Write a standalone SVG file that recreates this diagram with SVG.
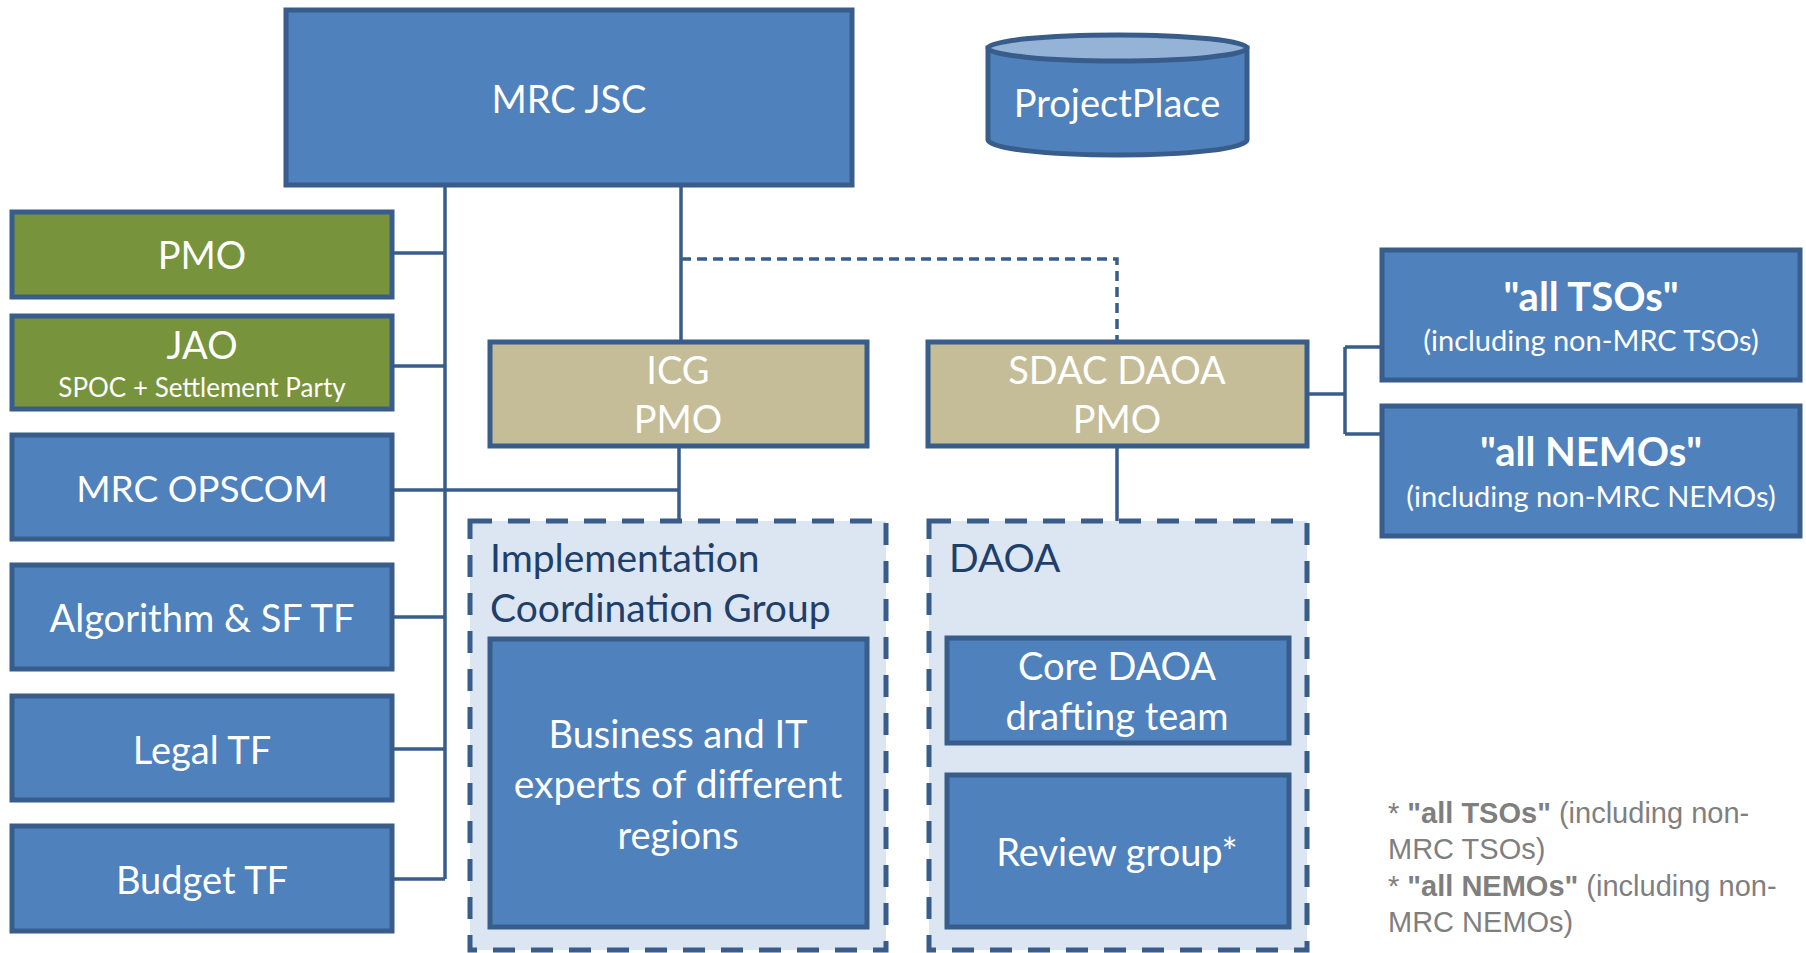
<svg xmlns="http://www.w3.org/2000/svg" width="1806" height="953" viewBox="0 0 1806 953">
<style>
.box{fill:#4F81BD;stroke:#385D8A;stroke-width:5}
.green{fill:#77933C;stroke:#385D8A;stroke-width:5}
.beige{fill:#C4BD97;stroke:#385D8A;stroke-width:5}
.grp{fill:#DCE6F2;stroke:#385D8A;stroke-width:5;stroke-dasharray:22 16}
.ln{fill:none;stroke:#385D8A;stroke-width:3.5}
.dash{fill:none;stroke:#385D8A;stroke-width:3.5;stroke-dasharray:10 6}
text{font-family:Lato,"Open Sans","Liberation Sans",sans-serif}
.t{fill:#fff;font-size:38px;text-anchor:middle}
.ts{fill:#fff;font-size:26px;text-anchor:middle}
.tsb{fill:#fff;font-size:29px;text-anchor:middle}
.tb{fill:#fff;font-size:40px;font-weight:bold;text-anchor:middle}
.td{fill:#1F3F6B;font-size:39px}
.fn{font-family:"Liberation Sans",Arial,sans-serif;fill:#7F7F7F;font-size:29px}
</style>
<rect width="1806" height="953" fill="#fff"/>
<g id="connectors">
<path class="ln" d="M445 185V879M392 253H445M392 366H445M392 490H680M392 617H445M392 749H445M392 879H445"/>
<path class="ln" d="M681 185V342"/>
<path class="dash" d="M681 259H1117V342"/>
<path class="ln" d="M679 446V521"/>
<path class="ln" d="M1117 446V521"/>
<path class="ln" d="M1307 394H1345M1345 347V434M1345 347H1382M1345 434H1382"/>
</g>
<g id="mrc-jsc"><rect class="box" x="286" y="10" width="566" height="175"/><text class="t" x="569" y="113">MRC JSC</text></g>
<g id="projectplace">
<path d="M988 48V140A129 15 0 0 0 1247 140V48Z" fill="#4F81BD" stroke="#385D8A" stroke-width="5"/>
<ellipse cx="1117.5" cy="48" rx="129.5" ry="13" fill="#95B3D7" stroke="#385D8A" stroke-width="5"/>
<text class="t" x="1117" y="117">ProjectPlace</text></g>
<g id="pmo"><rect class="green" x="12" y="212" width="380" height="85"/><text class="t" x="202" y="269">PMO</text></g>
<g id="jao"><rect class="green" x="12" y="316" width="380" height="93"/><text class="t" x="202" y="359">JAO</text><text class="ts" x="202" y="397">SPOC + Settlement Party</text></g>
<g id="mrc-opscom"><rect class="box" x="12" y="435" width="380" height="104"/><text class="t" x="202" y="502" style="font-size:37px">MRC OPSCOM</text></g>
<g id="algorithm"><rect class="box" x="12" y="565" width="380" height="104"/><text class="t" x="202" y="632">Algorithm &amp; SF TF</text></g>
<g id="legal"><rect class="box" x="12" y="696" width="380" height="104"/><text class="t" x="202" y="764">Legal TF</text></g>
<g id="budget"><rect class="box" x="12" y="826" width="380" height="105"/><text class="t" x="202" y="894">Budget TF</text></g>
<g id="icg-pmo"><rect class="beige" x="490" y="342" width="377" height="104"/><text class="t" x="678" y="384">ICG</text><text class="t" x="678" y="433">PMO</text></g>
<g id="sdac-pmo"><rect class="beige" x="928" y="342" width="379" height="104"/><text class="t" x="1117" y="384">SDAC DAOA</text><text class="t" x="1117" y="433">PMO</text></g>
<g id="icg-group"><rect class="grp" x="470" y="521" width="416" height="429"/><text class="td" x="490" y="572">Implementation</text><text class="td" x="490" y="622">Coordination Group</text></g>
<g id="business-it"><rect class="box" x="490" y="639" width="377" height="288"/><text class="t" x="678" y="748">Business and IT</text><text class="t" x="678" y="798" style="font-size:39px">experts of different</text><text class="t" x="678" y="849">regions</text></g>
<g id="daoa-group"><rect class="grp" x="929" y="521" width="378" height="429"/><text class="td" x="949" y="572">DAOA</text></g>
<g id="core-daoa"><rect class="box" x="947" y="638" width="342" height="105"/><text class="t" x="1117" y="680">Core DAOA</text><text class="t" x="1117" y="730">drafting team</text></g>
<g id="review-group"><rect class="box" x="947" y="775" width="342" height="152"/><text class="t" x="1117" y="866">Review group*</text></g>
<g id="all-tsos"><rect class="box" x="1382" y="250" width="418" height="130"/><text class="tb" x="1591" y="311">"all TSOs"</text><text class="tsb" x="1591" y="351">(including non-MRC TSOs)</text></g>
<g id="all-nemos"><rect class="box" x="1382" y="406" width="418" height="130"/><text class="tb" x="1591" y="466">"all NEMOs"</text><text class="tsb" x="1591" y="507">(including non-MRC NEMOs)</text></g>
<g id="footnote">
<text class="fn" x="1388" y="823">* <tspan font-weight="bold">"all TSOs"</tspan> (including non-</text>
<text class="fn" x="1388" y="859">MRC TSOs)</text>
<text class="fn" x="1388" y="896">* <tspan font-weight="bold">"all NEMOs"</tspan> (including non-</text>
<text class="fn" x="1388" y="932">MRC NEMOs)</text>
</g>
</svg>
